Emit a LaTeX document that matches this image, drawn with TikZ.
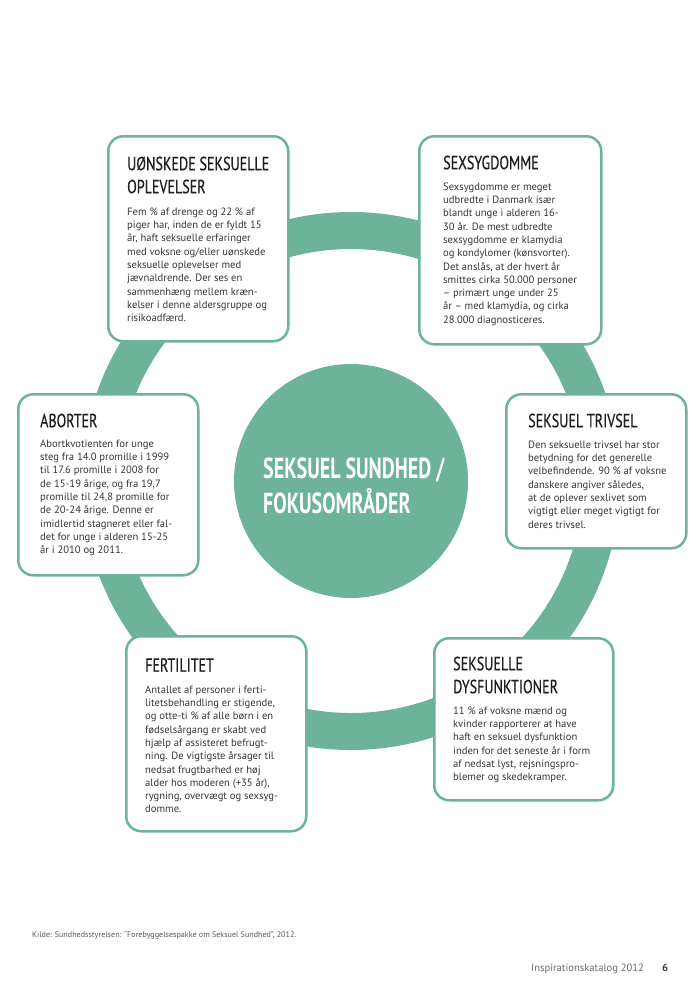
\documentclass[tikz,border=0pt]{standalone}
\usepackage{fontspec}
\setmainfont{PT Sans}
\newfontfamily\headfont[FakeStretch=0.74,FakeBold=0.5]{PT Sans}
\newfontfamily\titlefont[FakeStretch=0.69]{PT Sans}
\definecolor{ringgreen}{HTML}{6CB39A}
\definecolor{headgray}{HTML}{1E1E1E}
\definecolor{bodygray}{HTML}{363636}
\definecolor{footgray}{HTML}{5A5A5A}
\begin{document}
\begin{tikzpicture}[x=1pt,y=-1pt,
  box/.style={draw=ringgreen, line width=2.5pt, fill=white, rounded corners=15pt, inner sep=0pt, anchor=north west},
  head/.style={anchor=north west, inner sep=0pt, align=left, text=headgray, font=\headfont\fontsize{19}{23}\selectfont},
  body/.style={anchor=north west, inner sep=0pt, align=left, text=bodygray, font=\fontsize{10.6}{13.3}\selectfont},
  foot/.style={anchor=base west, inner sep=0pt, text=footgray},
]
\useasboundingbox (0,0) rectangle (700,997);
\fill[white] (0,0) rectangle (700,997);
% ring
\fill[ringgreen, even odd rule] (351,481) circle[radius=269pt] (351,481) circle[radius=232pt];
% centre circle
\node[circle, fill=ringgreen, minimum size=234pt, inner sep=0pt] (c) at (351,481) {};
\node[anchor=north west, inner sep=0pt, align=left, text=white, font=\titlefont\bfseries\fontsize{29}{29}\selectfont] (title) at (263,457.7) {\strut SEKSUEL SUNDHED /\\FOKUSOMRÅDER};
% boxes
\node[box, minimum width=180pt, minimum height=205pt] (b1) at (107,135) {};
\node[box, minimum width=182pt, minimum height=208pt] (b2) at (418,135) {};
\node[box, minimum width=180pt, minimum height=181pt] (b3) at (17,393) {};
\node[box, minimum width=180pt, minimum height=154pt] (b4) at (505,393) {};
\node[box, minimum width=180pt, minimum height=195pt] (b5) at (125,635) {};
\node[box, minimum width=179pt, minimum height=162pt] (b6) at (433,637) {};
% headings
\node[head] (h1) at (127,153.9) {\strut UØNSKEDE SEKSUELLE\\OPLEVELSER};
\node[head] (h2) at (443,152.9) {\strut SEXSYGDOMME};
\node[head] (h3) at (40,410.9) {\strut ABORTER};
\node[head] (h4) at (528,410.9) {\strut SEKSUEL TRIVSEL};
\node[head] (h5) at (145,655.4) {\strut FERTILITET};
\node[head] (h6) at (453,653.9) {\strut SEKSUELLE\\DYSFUNKTIONER};
% bodies
\node[body] (t1) at (127,205.7) {\strut Fem \% af drenge og 22 \% af\\piger har, inden de er fyldt 15\\år, haft seksuelle erfaringer\\med voksne og/eller uønskede\\seksuelle oplevelser med\\jævnaldrende. Der ses en\\sammenhæng mellem kræn-\\kelser i denne aldersgruppe og\\risikoadfærd.};
\node[body] (t2) at (443,180.7) {\strut Sexsygdomme er meget\\udbredte i Danmark især\\blandt unge i alderen 16-\\30 år. De mest udbredte\\sexsygdomme er klamydia\\og kondylomer (kønsvorter).\\Det anslås, at der hvert år\\smittes cirka 50.000 personer\\– primært unge under 25\\år – med klamydia, og cirka\\28.000 diagnosticeres.};
\node[body] (t3) at (40,437.7) {\strut Abortkvotienten for unge\\steg fra 14.0 promille i 1999\\til 17.6 promille i 2008 for\\de 15-19 årige, og fra 19,7\\promille til 24,8 promille for\\de 20-24 årige. Denne er\\imidlertid stagneret eller fal-\\det for unge i alderen 15-25\\år i 2010 og 2011.};
\node[body] (t4) at (528,438.7) {\strut Den seksuelle trivsel har stor\\betydning for det generelle\\velbefindende. 90 \% af voksne\\danskere angiver således,\\at de oplever sexlivet som\\vigtigt eller meget vigtigt for\\deres trivsel.};
\node[body] (t5) at (145,683.7) {\strut Antallet af personer i ferti-\\litetsbehandling er stigende,\\og otte-ti \% af alle børn i en\\fødselsårgang er skabt ved\\hjælp af assisteret befrugt-\\ning. De vigtigste årsager til\\nedsat frugtbarhed er høj\\alder hos moderen (+35 år),\\rygning, overvægt og sexsyg-\\domme.};
\node[body] (t6) at (453,704.7) {\strut 11 \% af voksne mænd og\\kvinder rapporterer at have\\haft en seksuel dysfunktion\\inden for det seneste år i form\\af nedsat lyst, rejsningspro-\\blemer og skedekramper.};
% footer
\node[foot, font=\fontsize{8.1}{9}\selectfont] (src) at (32,937) {Kilde: Sundhedsstyrelsen: “Forebyggelsespakke om Seksuel Sundhed”, 2012.};
\node[foot, font=\fontsize{10.6}{12}\selectfont, text=footgray!90] (cat) at (531,971) {Inspirationskatalog 2012};
\node[foot, font=\bfseries\fontsize{10.6}{12}\selectfont, text=headgray!85] (pg) at (662,971) {6};
\end{tikzpicture}
\end{document}
